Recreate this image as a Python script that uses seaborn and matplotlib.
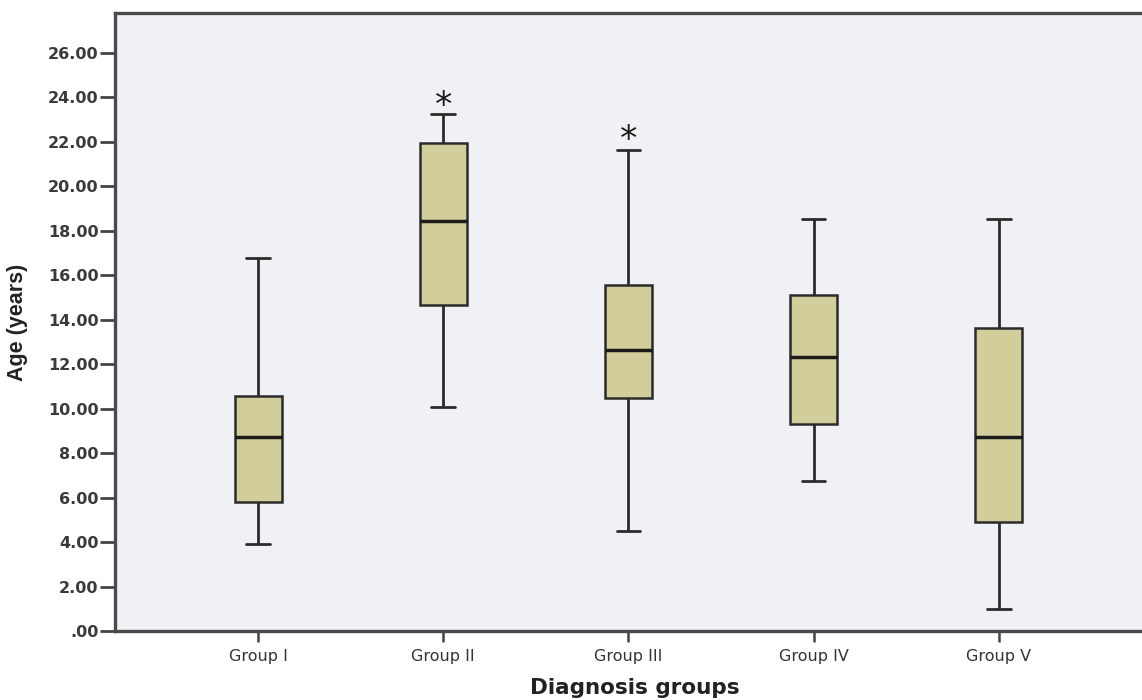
import numpy as np
import pandas as pd
import matplotlib
matplotlib.use("Agg")
import matplotlib.pyplot as plt
import matplotlib.transforms as mtransforms
import seaborn as sns

groups = ["Group I", "Group II", "Group III", "Group IV", "Group V"]
whisker_low = [3.91, 10.08, 4.50, 6.75, 0.99]
q1 = [5.80, 14.66, 10.48, 9.31, 4.90]
median = [8.73, 18.44, 12.64, 12.33, 8.73]
q3 = [10.57, 21.95, 15.56, 15.11, 13.63]
whisker_high = [16.78, 23.26, 21.64, 18.53, 18.53]
extreme_groups = ["Group II", "Group III"]
extreme_values = [24.0, 22.45]
yticks = np.arange(0, 27, 2)

rows = []
for g, a, b, c, d, e in zip(groups, whisker_low, q1, median, q3, whisker_high):
    for v in (a, b, c, d, e):
        rows.append({"group": g, "age": v})
df = pd.DataFrame(rows)

sns.set_style("white")
plt.rcParams["font.family"] = ["DejaVu Sans"]

fig = plt.figure(figsize=(11.42, 7.0), dpi=100)
ax = fig.add_axes([0.1007, 0.0986, 0.91, 0.8828])
ax.set_facecolor("#F0F1F4")

edge = "#2b2b2b"
sns.boxplot(data=df, x="group", y="age", order=groups, whis=np.inf, width=0.255,
            color="#D2CE9C", saturation=1, linewidth=1.8, ax=ax,
            boxprops=dict(edgecolor=edge, facecolor="#D2CE9C"),
            whiskerprops=dict(color=edge, linewidth=2),
            capprops=dict(color=edge, linewidth=2),
            medianprops=dict(color="#1a1a1a", linewidth=2.5))

star_tr = mtransforms.offset_copy(ax.transData, fig=fig, x=0, y=-6, units="points")
for g, v in zip(extreme_groups, extreme_values):
    ax.text(groups.index(g), v, "*", ha="center", va="center", fontsize=25,
            color="#1a1a1a", transform=star_tr)

ax.set_ylim(0, 27.8)
ax.set_xlim(-0.773, 4.84)
ax.set_yticks(yticks)
ax.set_yticklabels([".00" if v == 0 else f"{v:.2f}" for v in yticks],
                   fontsize=11.5, fontweight="bold", color="#3a3a3a")
ax.set_xticks(range(len(groups)))
ax.set_xticklabels(groups, fontsize=11.5, color="#333333")
ax.tick_params(axis="y", length=11, width=2, color="#444444", direction="out", left=True, pad=1)
ax.tick_params(axis="x", length=8, width=1.8, color="#444444", direction="out", bottom=True, pad=5)

ax.set_ylabel("Age (years)", fontsize=15.5, fontweight="bold", color="#222222",
              fontfamily="Liberation Sans", labelpad=14)
ax.set_xlabel("Diagnosis groups", fontsize=15.5, fontweight="bold", color="#222222", labelpad=10)

for s in ["left", "bottom", "top"]:
    ax.spines[s].set_visible(True)
    ax.spines[s].set_color("#4a4a4a")
    ax.spines[s].set_linewidth(2.4)
ax.spines["right"].set_visible(False)

fig.savefig("out.png", dpi=100)
